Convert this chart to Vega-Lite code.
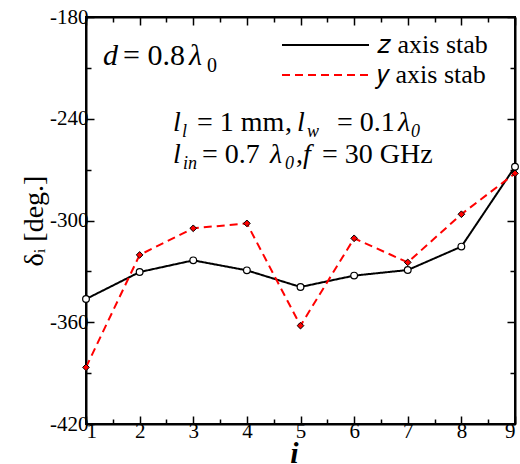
{
  "$schema": "https://vega.github.io/schema/vega-lite/v6.json",
  "width": 429,
  "height": 407,
  "autosize": {"type": "none"},
  "padding": {"left": 86, "top": 17, "right": 5, "bottom": 40},
  "background": "white",
  "config": {
    "view": {"stroke": "black", "strokeWidth": 2},
    "font": "Liberation Serif",
    "axis": {
      "domainColor": "black", "domainWidth": 2, "tickColor": "black", "tickWidth": 1.5,
      "labelFont": "Liberation Serif", "labelFontSize": 21, "labelColor": "black",
      "titleFont": "Liberation Serif", "titleColor": "black", "titleFontWeight": "normal",
      "grid": false
    },
    "legend": {
      "title": null, "orient": "none", "legendX": 195, "legendY": 13,
      "symbolType": "stroke", "symbolSize": 7569, "symbolStrokeWidth": 2,
      "labelFont": "Liberation Serif", "labelFontSize": 26, "labelColor": "black",
      "labelOffset": 7, "clipHeight": 30, "rowPadding": 0, "padding": 0
    }
  },
  "datasets": {
    "series": [
      {"i": 1, "delta": -346.3, "series": "z axis stab"},
      {"i": 2, "delta": -330.4, "series": "z axis stab"},
      {"i": 3, "delta": -323.5, "series": "z axis stab"},
      {"i": 4, "delta": -329.4, "series": "z axis stab"},
      {"i": 5, "delta": -339.2, "series": "z axis stab"},
      {"i": 6, "delta": -332.5, "series": "z axis stab"},
      {"i": 7, "delta": -329.2, "series": "z axis stab"},
      {"i": 8, "delta": -315.4, "series": "z axis stab"},
      {"i": 9, "delta": -268.3, "series": "z axis stab"},
      {"i": 1, "delta": -386.6, "series": "y axis stab"},
      {"i": 2, "delta": -320.3, "series": "y axis stab"},
      {"i": 3, "delta": -304.6, "series": "y axis stab"},
      {"i": 4, "delta": -301.7, "series": "y axis stab"},
      {"i": 5, "delta": -362.0, "series": "y axis stab"},
      {"i": 6, "delta": -310.5, "series": "y axis stab"},
      {"i": 7, "delta": -324.7, "series": "y axis stab"},
      {"i": 8, "delta": -296.3, "series": "y axis stab"},
      {"i": 9, "delta": -272.2, "series": "y axis stab"}
    ],
    "itBig": [
      {"x": 1.317, "y": -208.3, "label": "d"},
      {"x": 2.921, "y": -208.3, "label": "λ"}
    ],
    "upBig": [
      {"x": 1.690, "y": -208.3, "label": "= 0.8"}
    ],
    "upBigSub": [
      {"x": 3.256, "y": -212.4, "label": "0"}
    ],
    "itMain": [
      {"x": 2.622, "y": -247.5, "label": "l"},
      {"x": 4.935, "y": -247.5, "label": "l"},
      {"x": 6.818, "y": -247.5, "label": "λ"},
      {"x": 2.622, "y": -266.3, "label": "l"},
      {"x": 4.431, "y": -266.3, "label": "λ"},
      {"x": 5.047, "y": -266.3, "label": "f"}
    ],
    "upMain": [
      {"x": 3.070, "y": -247.5, "label": "= 1 mm"},
      {"x": 4.710, "y": -247.5, "label": ","},
      {"x": 5.681, "y": -247.5, "label": "= 0.1"},
      {"x": 3.163, "y": -266.3, "label": "= 0.7"},
      {"x": 4.916, "y": -266.3, "label": ","},
      {"x": 5.401, "y": -266.3, "label": "= 30 GHz"}
    ],
    "itSub": [
      {"x": 2.790, "y": -251.0, "label": "l"},
      {"x": 5.121, "y": -251.0, "label": "w"},
      {"x": 7.061, "y": -251.0, "label": "0"},
      {"x": 2.809, "y": -269.8, "label": "in"},
      {"x": 4.711, "y": -269.8, "label": "0"}
    ]
  },
  "layer": [
    {
      "data": {"name": "series"},
      "mark": {"type": "line", "strokeWidth": 2},
      "encoding": {
        "x": {"field": "i", "type": "quantitative", "scale": {"domain": [1, 9], "nice": false, "zero": false},
              "axis": {"orient": "bottom", "values": [1,2,3,4,5,6,7,8,9], "tickSize": -8, "labelPadding": 4,
                       "title": "i", "titleFontSize": 30, "titleFontStyle": "italic", "titleFontWeight": "bold", "titlePadding": -3, "titleX": 208}},
        "y": {"field": "delta", "type": "quantitative", "scale": {"domain": [-420, -180], "nice": false, "zero": false},
              "axis": {"orient": "left", "values": [-420,-360,-300,-240,-180], "tickSize": -8, "labelPadding": 6,
                       "labelExpr": "'' + datum.value",
                       "title": "δᵢ [deg.]", "titleFontSize": 28, "titlePadding": 1}},
        "color": {"field": "series", "type": "nominal",
                  "scale": {"domain": ["z axis stab", "y axis stab"], "range": ["black", "red"]},
                  "legend": {"labelExpr": "datum.label == 'z axis stab' ? '𝑧 axis stab' : '𝑦 axis stab'"}},
        "strokeDash": {"field": "series", "type": "nominal",
                       "scale": {"domain": ["z axis stab", "y axis stab"], "range": [[1, 0], [8, 5]]},
                       "legend": {"labelExpr": "datum.label == 'z axis stab' ? '𝑧 axis stab' : '𝑦 axis stab'"}}
      }
    },
    {
      "data": {"name": "series"},
      "transform": [{"filter": "datum.series == 'z axis stab'"}],
      "mark": {"type": "point", "shape": "circle", "filled": true, "fill": "white", "stroke": "black", "strokeWidth": 1.2, "size": 45, "opacity": 1},
      "encoding": {
        "x": {"field": "i", "type": "quantitative",
              "axis": {"orient": "bottom", "values": [1.5,2.5,3.5,4.5,5.5,6.5,7.5,8.5], "tickSize": -5, "labels": false, "domain": false, "title": null}},
        "y": {"field": "delta", "type": "quantitative",
              "axis": {"orient": "left", "values": [-390,-330,-270,-210], "tickSize": -5, "labels": false, "domain": false, "title": null}}
      }
    },
    {
      "data": {"name": "series"},
      "transform": [{"filter": "datum.series == 'y axis stab'"}],
      "mark": {"type": "point", "shape": "diamond", "filled": true, "fill": "red", "stroke": "black", "strokeWidth": 1, "size": 45, "opacity": 1},
      "encoding": {
        "x": {"field": "i", "type": "quantitative",
              "axis": {"orient": "top", "values": [1,2,3,4,5,6,7,8,9], "tickSize": -8, "labels": false, "title": null}},
        "y": {"field": "delta", "type": "quantitative",
              "axis": {"orient": "right", "values": [-420,-360,-300,-240,-180], "tickSize": -8, "labels": false, "title": null}}
      }
    },
    {
      "data": {"name": "series"},
      "mark": {"type": "point", "opacity": 0},
      "encoding": {
        "x": {"field": "i", "type": "quantitative",
              "axis": {"orient": "top", "values": [1.5,2.5,3.5,4.5,5.5,6.5,7.5,8.5], "tickSize": -5, "labels": false, "domain": false, "title": null}},
        "y": {"field": "delta", "type": "quantitative",
              "axis": {"orient": "right", "values": [-390,-330,-270,-210], "tickSize": -5, "labels": false, "domain": false, "title": null}}
      }
    },
    {
      "data": {"name": "itBig"},
      "mark": {"type": "text", "align": "left", "baseline": "alphabetic", "fontSize": 30, "fontStyle": "italic", "font": "Liberation Serif", "color": "black"},
      "encoding": {
        "x": {"field": "x", "type": "quantitative", "axis": null},
        "y": {"field": "y", "type": "quantitative", "axis": null},
        "text": {"field": "label"}
      }
    },
    {
      "data": {"name": "upBig"},
      "mark": {"type": "text", "align": "left", "baseline": "alphabetic", "fontSize": 30, "font": "Liberation Serif", "color": "black"},
      "encoding": {
        "x": {"field": "x", "type": "quantitative", "axis": null},
        "y": {"field": "y", "type": "quantitative", "axis": null},
        "text": {"field": "label"}
      }
    },
    {
      "data": {"name": "upBigSub"},
      "mark": {"type": "text", "align": "left", "baseline": "alphabetic", "fontSize": 20, "font": "Liberation Serif", "color": "black"},
      "encoding": {
        "x": {"field": "x", "type": "quantitative", "axis": null},
        "y": {"field": "y", "type": "quantitative", "axis": null},
        "text": {"field": "label"}
      }
    },
    {
      "data": {"name": "itMain"},
      "mark": {"type": "text", "align": "left", "baseline": "alphabetic", "fontSize": 28, "fontStyle": "italic", "font": "Liberation Serif", "color": "black"},
      "encoding": {
        "x": {"field": "x", "type": "quantitative", "axis": null},
        "y": {"field": "y", "type": "quantitative", "axis": null},
        "text": {"field": "label"}
      }
    },
    {
      "data": {"name": "upMain"},
      "mark": {"type": "text", "align": "left", "baseline": "alphabetic", "fontSize": 28, "font": "Liberation Serif", "color": "black"},
      "encoding": {
        "x": {"field": "x", "type": "quantitative", "axis": null},
        "y": {"field": "y", "type": "quantitative", "axis": null},
        "text": {"field": "label"}
      }
    },
    {
      "data": {"name": "itSub"},
      "mark": {"type": "text", "align": "left", "baseline": "alphabetic", "fontSize": 18, "fontStyle": "italic", "font": "Liberation Serif", "color": "black"},
      "encoding": {
        "x": {"field": "x", "type": "quantitative", "axis": null},
        "y": {"field": "y", "type": "quantitative", "axis": null},
        "text": {"field": "label"}
      }
    }
  ],
  "resolve": {"axis": {"x": "independent", "y": "independent"}}
}
